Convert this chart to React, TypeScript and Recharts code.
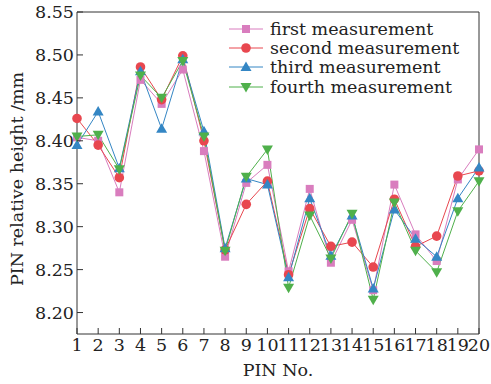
import React from "react";
import { LineChart, Line, XAxis, YAxis, ReferenceLine, Label } from "recharts";

const pins = [1, 2, 3, 4, 5, 6, 7, 8, 9, 10, 11, 12, 13, 14, 15, 16, 17, 18, 19, 20];
const first = [8.404, 8.400, 8.340, 8.471, 8.443, 8.483, 8.388, 8.265, 8.351, 8.372, 8.248, 8.344, 8.258, 8.308, 8.226, 8.349, 8.291, 8.260, 8.355, 8.390];
const second = [8.426, 8.395, 8.357, 8.486, 8.448, 8.499, 8.400, 8.273, 8.326, 8.353, 8.244, 8.321, 8.277, 8.282, 8.253, 8.332, 8.277, 8.289, 8.359, 8.365];
const third = [8.395, 8.434, 8.368, 8.481, 8.414, 8.495, 8.411, 8.275, 8.356, 8.349, 8.241, 8.333, 8.266, 8.313, 8.228, 8.320, 8.286, 8.265, 8.333, 8.369];
const fourth = [8.405, 8.407, 8.367, 8.476, 8.450, 8.493, 8.405, 8.272, 8.358, 8.390, 8.229, 8.313, 8.263, 8.315, 8.215, 8.328, 8.272, 8.247, 8.318, 8.353];
const yTicks = [8.2, 8.25, 8.3, 8.35, 8.4, 8.45, 8.5, 8.55];

const data = pins.map((p, i) => ({ pin: p, first: first[i], second: second[i], third: third[i], fourth: fourth[i] }));

const FONT = "'DejaVu Serif', 'Liberation Serif', serif";
const AXIS = "#333";

const series = [
  { key: "first", name: "first measurement", color: "#D97DBE", shape: "square" },
  { key: "second", name: "second measurement", color: "#E8474F", shape: "circle" },
  { key: "third", name: "third measurement", color: "#3486C4", shape: "up" },
  { key: "fourth", name: "fourth measurement", color: "#4FB04B", shape: "down" },
];

function Marker({ shape, cx, cy, color }: { shape: string; cx: number; cy: number; color: string }) {
  if (shape === "square") return <rect x={cx - 4} y={cy - 4} width={8} height={8} fill={color} />;
  if (shape === "circle") return <circle cx={cx} cy={cy} r={4.8} fill={color} />;
  if (shape === "up")
    return <polygon points={`${cx},${cy - 5.5} ${cx + 5.5},${cy + 4} ${cx - 5.5},${cy + 4}`} fill={color} />;
  return <polygon points={`${cx},${cy + 5.5} ${cx + 5.5},${cy - 4} ${cx - 5.5},${cy - 4}`} fill={color} />;
}

const XTick = (props: any) => {
  const { x, y, payload } = props;
  return (
    <g>
      <line x1={x} x2={x} y1={y} y2={y - 6} stroke={AXIS} />
      <text x={x} y={y + 17} textAnchor="middle" fontSize={17.5} fontFamily={FONT} fill="#222">
        {payload.value}
      </text>
    </g>
  );
};

const YTick = (props: any) => {
  const { x, y, payload } = props;
  return (
    <g>
      <line x1={x} x2={x + 6} y1={y} y2={y} stroke={AXIS} />
      <text x={x - 3} y={y + 6} textAnchor="end" fontSize={17.5} fontFamily={FONT} fill="#222">
        {payload.value.toFixed(2)}
      </text>
    </g>
  );
};

const YLabel = (props: any) => {
  const { viewBox } = props;
  const cx = 17;
  const cy = viewBox.y + viewBox.height / 2 + 6;
  return (
    <text x={cx} y={cy} transform={`rotate(-90 ${cx} ${cy})`} textAnchor="middle" dominantBaseline="central"
      fontSize={17.5} fontFamily={FONT} fill="#222">
      PIN relative height /mm
    </text>
  );
};

const LegendBox = () => (
  <div style={{ position: "absolute", left: 229, top: 19, fontFamily: FONT, fontSize: 17.5, color: "#222" }}>
    {series.map((s) => (
      <div key={s.key} style={{ display: "flex", alignItems: "center", height: 19.3, whiteSpace: "nowrap" }}>
        <svg width={38} height={14} style={{ marginRight: 3 }}>
          <line x1={0} x2={34} y1={7} y2={7} stroke={s.color} strokeWidth={1} />
          <Marker shape={s.shape} cx={17} cy={7} color={s.color} />
        </svg>
        <span>{s.name}</span>
      </div>
    ))}
  </div>
);

export default function App() {
  return (
    <div style={{ position: "absolute", left: 0, top: 0, width: 491, height: 384, background: "#fff" }}>
      <LineChart width={491} height={384} data={data} margin={{ top: 12, right: 12, left: 0, bottom: 0 }}>
        <XAxis
          dataKey="pin"
          type="number"
          domain={[1, 20]}
          ticks={pins}
          interval={0}
          height={50}
          stroke={AXIS}
          tickLine={false}
          tickSize={0}
          tickMargin={0}
          tick={XTick}
        >
          <Label value="PIN No." position="insideBottom" offset={8} fontSize={17.5} fontFamily={FONT} fill="#222" />
        </XAxis>
        <YAxis
          type="number"
          domain={[8.175, 8.55]}
          ticks={yTicks}
          interval={0}
          width={77}
          stroke={AXIS}
          tickLine={false}
          tickSize={0}
          tickMargin={0}
          tick={YTick}
        >
          <Label content={YLabel} />
        </YAxis>
        <ReferenceLine y={8.55} stroke={AXIS} />
        <ReferenceLine x={20} stroke={AXIS} />
        {series.map((s) => (
          <Line
            key={s.key}
            dataKey={s.key}
            name={s.name}
            stroke={s.color}
            strokeWidth={1}
            isAnimationActive={false}
            dot={(p: any) => <Marker key={`${s.key}-${p.index}`} shape={s.shape} cx={p.cx} cy={p.cy} color={s.color} />}
          />
        ))}
      </LineChart>
      <LegendBox />
    </div>
  );
}
